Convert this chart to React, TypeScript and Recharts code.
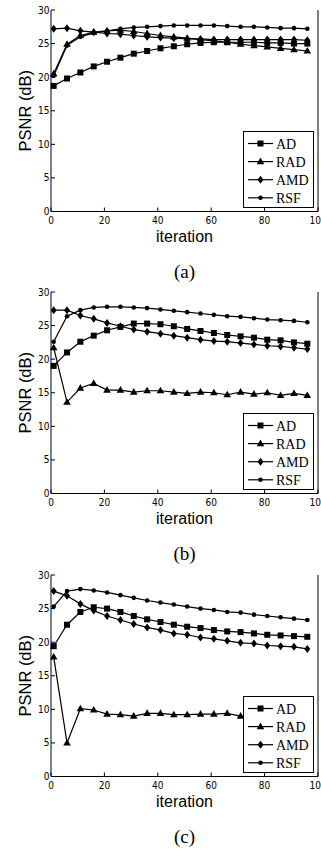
import React from 'react';
import { LineChart, Line, XAxis, YAxis, Legend } from 'recharts';

const iterations = [1, 6, 11, 16, 21, 26, 31, 36, 41, 46, 51, 56, 61, 66, 71, 76, 81, 86, 91, 96];
const seriesNames = ['AD', 'RAD', 'AMD', 'RSF'];
const xTicks = [0, 20, 40, 60, 80, 100];
const yTicks = [0, 5, 10, 15, 20, 25, 30];
const captions = ['(a)', '(b)', '(c)'];

// panel (a)
const adA = [18.7, 19.8, 20.7, 21.6, 22.3, 22.9, 23.5, 23.9, 24.3, 24.6, 24.9, 25.1, 25.2, 25.2, 25.2, 25.2, 25.1, 25.1, 25.0, 25.0];
const radA = [20.5, 24.9, 26.2, 26.7, 26.9, 27.0, 26.8, 26.5, 26.2, 26.0, 25.8, 25.6, 25.4, 25.2, 24.9, 24.7, 24.5, 24.3, 24.1, 23.9];
const amdA = [27.2, 27.3, 26.9, 26.7, 26.5, 26.4, 26.2, 26.0, 25.9, 25.8, 25.7, 25.7, 25.6, 25.6, 25.6, 25.6, 25.6, 25.6, 25.6, 25.5];
const rsfA = [20.2, 24.7, 26.0, 26.6, 26.9, 27.2, 27.4, 27.5, 27.6, 27.7, 27.7, 27.7, 27.7, 27.6, 27.5, 27.5, 27.4, 27.3, 27.3, 27.2];

// panel (b)
const adB = [19.0, 21.0, 22.6, 23.5, 24.3, 24.8, 25.3, 25.3, 25.2, 24.9, 24.5, 24.2, 23.9, 23.6, 23.4, 23.2, 22.9, 22.8, 22.5, 22.3];
const radB = [21.7, 13.6, 15.7, 16.4, 15.4, 15.4, 15.1, 15.3, 15.3, 15.1, 14.9, 15.1, 15.0, 14.7, 15.1, 14.8, 15.0, 14.6, 14.9, 14.6];
const amdB = [27.3, 27.3, 26.5, 26.0, 25.4, 24.9, 24.4, 24.1, 23.8, 23.5, 23.2, 22.9, 22.7, 22.6, 22.4, 22.2, 22.0, 21.9, 21.7, 21.5];
const rsfB = [22.6, 26.4, 27.3, 27.7, 27.8, 27.8, 27.7, 27.6, 27.4, 27.2, 27.0, 26.8, 26.6, 26.4, 26.3, 26.1, 25.9, 25.8, 25.7, 25.5];

// panel (c)
const adC = [19.4, 22.6, 24.5, 25.2, 25.0, 24.5, 23.9, 23.4, 23.0, 22.6, 22.3, 22.1, 21.8, 21.6, 21.5, 21.3, 21.1, 21.0, 20.9, 20.8];
const radC = [17.8, 5.0, 10.1, 9.9, 9.3, 9.2, 9.0, 9.4, 9.4, 9.2, 9.2, 9.3, 9.3, 9.4, 9.0, 9.0, 9.1, 9.0, 9.1, 9.0];
const amdC = [27.6, 26.9, 25.7, 24.7, 23.9, 23.3, 22.7, 22.2, 21.8, 21.3, 21.1, 20.7, 20.5, 20.2, 19.9, 19.8, 19.5, 19.4, 19.3, 19.0];
const rsfC = [25.3, 27.6, 27.9, 27.7, 27.4, 27.0, 26.6, 26.2, 25.9, 25.6, 25.3, 25.0, 24.8, 24.5, 24.4, 24.1, 23.9, 23.7, 23.5, 23.3];

const panelSeries = [
  [adA, radA, amdA, rsfA],
  [adB, radB, amdB, rsfB],
  [adC, radC, amdC, rsfC],
];
const panelTops = [0, 282.4, 565.4];

const tickFont = { fontFamily: '"DejaVu Sans Condensed", "DejaVu Sans", sans-serif', fontSize: 10, fill: '#000' };

function Marker({ name, cx, cy }: { name: string; cx: number; cy: number }) {
  if (name === 'AD') return <rect x={cx - 3} y={cy - 3} width={6} height={6} fill="#000" />;
  if (name === 'RAD')
    return <polygon points={`${cx},${cy - 4} ${cx + 3.8},${cy + 2.6} ${cx - 3.8},${cy + 2.6}`} fill="#000" />;
  if (name === 'AMD')
    return <polygon points={`${cx},${cy - 4} ${cx + 3},${cy} ${cx},${cy + 4} ${cx - 3},${cy}`} fill="#000" />;
  return <circle cx={cx} cy={cy} r={2.3} fill="#000" />;
}

// legend keeps the plotting order, not the alphabetical one
const renderLegend = () => (
  <svg width={68} height={74} style={{ display: 'block' }}>
    {seriesNames.map((n, i) => {
      const y = 11.5 + i * 18.1;
      return (
        <g key={n}>
          <line x1={4} x2={29} y1={y} y2={y} stroke="#000" strokeWidth={1.2} />
          <Marker name={n} cx={16.5} cy={y} />
          <text x={32} y={y + 5} fontFamily='"Liberation Serif", serif' fontSize={14} fill="#000">
            {n}
          </text>
        </g>
      );
    })}
  </svg>
);

function Panel({ values, caption, top }: { values: number[][]; caption: string; top: number }) {
  const data = iterations.map((it, i) => {
    const row: any = { iteration: it };
    seriesNames.forEach((n, s) => (row[n] = values[s][i]));
    return row;
  });
  return (
    <div style={{ position: 'absolute', left: 0, top, width: 321, height: 282 }}>
      <LineChart width={321} height={250} data={data} margin={{ top: 10, right: 0, bottom: 0, left: 0 }} style={{ overflow: 'visible' }}>
        <XAxis
          dataKey="iteration"
          type="number"
          domain={[0, 100]}
          ticks={xTicks}
          interval={0}
          height={38.5}
          stroke="#000"
          tickSize={-4}
          tickMargin={9}
          tick={tickFont}
          label={{ value: 'iteration', position: 'insideBottom', offset: 8, fontSize: 16, fill: '#000', fontFamily: '"Liberation Sans", Arial, sans-serif' }}
        />
        <XAxis xAxisId="top" orientation="top" type="number" domain={[0, 100]} ticks={xTicks} interval={0} height={0} stroke="#000" tickSize={-4} tick={false} />
        <YAxis
          domain={[0, 30]}
          ticks={yTicks}
          interval={0}
          width={51}
          stroke="#000"
          tickSize={-4}
          tickMargin={5.5}
          tick={tickFont}
          label={{ value: 'PSNR (dB)', angle: -90, position: 'center', dx: 0, fontSize: 16.5, fill: '#000', fontFamily: '"Liberation Sans", Arial, sans-serif' }}
        />
        <YAxis yAxisId="right" orientation="right" domain={[0, 30]} ticks={yTicks} interval={0} width={3} stroke="#000" tickSize={-4} tick={false} />
        {seriesNames.map((n) => (
          <Line
            key={n}
            dataKey={n}
            type="linear"
            stroke="#000"
            strokeWidth={1.2}
            isAnimationActive={false}
            activeDot={false}
            dot={(p: any) => <Marker key={`${n}-${p.index}`} name={n} cx={p.cx} cy={p.cy} />}
          />
        ))}
        <Legend
          layout="horizontal"
          verticalAlign="middle"
          align="center"
          content={renderLegend}
          wrapperStyle={{
            left: 243,
            top: 131,
            width: 71,
            height: 77,
            boxSizing: 'border-box',
            border: '1.5px solid #000',
            background: '#fff',
          }}
        />
      </LineChart>
      <div
        style={{
          position: 'absolute',
          top: 260,
          left: 51,
          width: 267,
          textAlign: 'center',
          fontFamily: '"Liberation Serif", serif',
          fontSize: 19,
          lineHeight: '24px',
        }}
      >
        {caption}
      </div>
    </div>
  );
}

export default function App() {
  return (
    <div style={{ position: 'relative', width: 321, height: 852, background: '#fff', overflow: 'hidden' }}>
      <style>{'body{margin:0}'}</style>
      {panelSeries.map((v, i) => (
        <Panel key={captions[i]} values={v} caption={captions[i]} top={panelTops[i]} />
      ))}
    </div>
  );
}
